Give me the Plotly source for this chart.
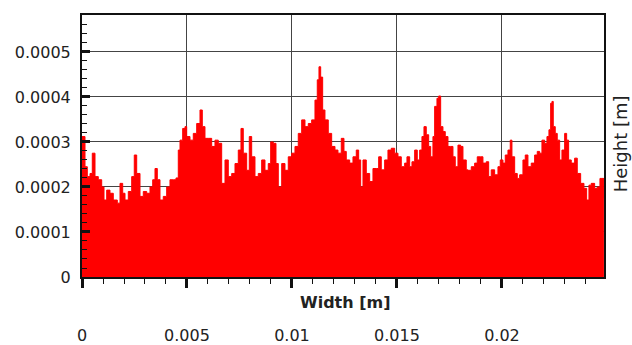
import plotly.graph_objects as go

# Surface profile (width in m, height in m)
width_m = [
    0.0, 0.000143, 0.000252, 0.000381, 0.000490, 0.000619, 0.000776, 0.000938, 0.001048, 0.001176,
    0.001333, 0.001490, 0.001681, 0.001810, 0.001938, 0.002048, 0.002205, 0.002367, 0.002490, 0.002605,
    0.002762, 0.002919, 0.003081, 0.003238, 0.003367, 0.003476, 0.003586, 0.003714, 0.003871, 0.004033,
    0.004190, 0.004348, 0.004476, 0.004586, 0.004667, 0.004795, 0.004905, 0.004986, 0.005143, 0.005300,
    0.005462, 0.005619, 0.005729, 0.005857, 0.006014, 0.006176, 0.006333, 0.006490, 0.006652, 0.006810,
    0.006967, 0.007129, 0.007286, 0.007443, 0.007571, 0.007681, 0.007843, 0.007967, 0.008081, 0.008238,
    0.008395, 0.008557, 0.008714, 0.008871, 0.008986, 0.009110, 0.009238, 0.009348, 0.009510, 0.009667,
    0.009824, 0.009986, 0.010143, 0.010300, 0.010462, 0.010619, 0.010776, 0.010938, 0.011095, 0.011205,
    0.011286, 0.011367, 0.011462, 0.011571, 0.011729, 0.011890, 0.012048, 0.012190, 0.012348, 0.012476,
    0.012586, 0.012748, 0.012905, 0.013062, 0.013176, 0.013271, 0.013381, 0.013538, 0.013700, 0.013857,
    0.014014, 0.014129, 0.014252, 0.014414, 0.014571, 0.014729, 0.014890, 0.015048, 0.015205, 0.015367,
    0.015476, 0.015605, 0.015714, 0.015843, 0.015967, 0.016081, 0.016190, 0.016286, 0.016395, 0.016510,
    0.016605, 0.016714, 0.016795, 0.016905, 0.016986, 0.017081, 0.017190, 0.017300, 0.017429, 0.017557,
    0.017667, 0.017776, 0.017905, 0.018033, 0.018143, 0.018300, 0.018381, 0.018538, 0.018700, 0.018824,
    0.018986, 0.019095, 0.019252, 0.019367, 0.019490, 0.019652, 0.019810, 0.019919, 0.020048, 0.020157,
    0.020286, 0.020395, 0.020476, 0.020605, 0.020729, 0.020843, 0.021000, 0.021110, 0.021238, 0.021395,
    0.021557, 0.021681, 0.021795, 0.021905, 0.022033, 0.022143, 0.022238, 0.022319, 0.022381, 0.022443,
    0.022538, 0.022633, 0.022748, 0.022857, 0.022986, 0.023081, 0.023176, 0.023300, 0.023462, 0.023586,
    0.023748, 0.023905, 0.024033, 0.024143, 0.024252, 0.024414, 0.024538, 0.024667, 0.024762, 0.024857,
]

height_e4 = [
    3.12, 2.45, 2.23, 2.30, 2.75, 2.23, 2.16, 2.00, 1.71, 1.93,
    1.86, 1.71, 1.64, 2.08, 1.86, 1.71, 1.90, 2.23, 2.71, 2.30,
    1.79, 1.90, 1.86, 2.00, 2.16, 2.41, 2.16, 1.71, 1.79, 2.00,
    2.16, 2.16, 2.20, 2.82, 3.04, 3.30, 3.34, 3.12, 3.04, 3.19,
    3.41, 3.71, 3.34, 3.08, 3.08, 2.90, 3.04, 2.97, 2.08, 2.60,
    2.23, 2.30, 2.52, 2.82, 3.30, 2.75, 2.37, 3.12, 2.67, 2.23,
    2.30, 2.60, 2.37, 2.52, 3.00, 2.97, 2.52, 2.00, 2.52, 2.37,
    2.67, 2.75, 2.90, 3.19, 3.49, 3.34, 3.41, 3.49, 3.93, 4.38,
    4.67, 4.44, 3.71, 3.49, 3.19, 2.90, 2.82, 2.75, 3.08, 2.79,
    2.60, 2.53, 2.67, 2.82, 2.60, 2.00, 2.60, 2.30, 2.12, 2.41,
    2.41, 2.67, 2.38, 2.60, 2.82, 2.86, 2.75, 2.67, 2.45, 2.53,
    2.67, 2.45, 2.56, 2.82, 2.60, 2.82, 3.12, 3.34, 3.16, 2.90,
    2.67, 3.12, 3.79, 3.97, 4.02, 3.34, 3.23, 3.12, 2.90, 2.90,
    2.67, 2.45, 2.93, 2.90, 2.60, 2.38, 2.37, 2.45, 2.53, 2.67,
    2.67, 2.53, 2.56, 2.23, 2.38, 2.27, 2.45, 2.60, 2.53, 2.71,
    2.82, 3.04, 2.67, 2.30, 2.19, 2.27, 2.60, 2.71, 2.45, 2.53,
    2.71, 2.79, 2.75, 3.04, 2.97, 3.12, 3.27, 3.86, 3.90, 3.34,
    3.19, 3.04, 2.60, 2.82, 3.19, 3.04, 2.60, 2.53, 2.64, 2.30,
    2.08, 1.97, 1.71, 2.04, 2.08, 1.97, 2.00, 2.19, 2.19, 1.75,
]
height_m = [h * 1e-4 for h in height_e4]

x_tick_vals = [0, 0.005, 0.01, 0.015, 0.02]
x_tick_text = ["0", "0.005", "0.01", "0.015", "0.02"]
y_tick_vals = [0, 0.0001, 0.0002, 0.0003, 0.0004, 0.0005]
y_tick_text = ["0", "0.0001", "0.0002", "0.0003", "0.0004", "0.0005"]

FONT = "DejaVu Sans"

fig = go.Figure()
fig.add_trace(go.Scatter(
    x=width_m, y=height_m, mode="lines",
    line=dict(color="#ff0000", width=1, shape="hv"),
    fill="tozeroy", fillcolor="#ff0000",
    hoverinfo="skip", showlegend=False,
))

fig.update_layout(
    width=632, height=345,
    margin=dict(l=82, r=28, t=15, b=68, autoexpand=False),
    paper_bgcolor="white", plot_bgcolor="white",
    font=dict(family=FONT, size=16, color="#222"),
    xaxis=dict(
        range=[0, 0.02486], tickvals=x_tick_vals, ticktext=x_tick_text,
        ticks="outside", ticklen=9, tickwidth=3, tickcolor="#111",
        minor=dict(dtick=0.001, ticks="outside", ticklen=5, tickwidth=1, tickcolor="#111", showgrid=False),
        showgrid=True, gridcolor="#444", gridwidth=1,
        showline=True, linecolor="#111", linewidth=2, mirror=True,
        ticklabelstandoff=34, zeroline=False, automargin=False,
        tickfont=dict(family=FONT, size=16, color="#222"),
    ),
    yaxis=dict(
        range=[0, 0.000582], tickvals=y_tick_vals, ticktext=y_tick_text,
        ticks="inside", ticklen=8, tickwidth=3, tickcolor="#111",
        minor=dict(dtick=0.00002, ticks="inside", ticklen=5, tickwidth=1, tickcolor="#111", showgrid=False),
        showgrid=True, gridcolor="#444", gridwidth=1,
        showline=True, linecolor="#111", linewidth=2, mirror=True,
        ticklabelstandoff=6, zeroline=False, automargin=False,
        tickfont=dict(family=FONT, size=16, color="#222"),
    ),
    annotations=[
        dict(text="<b>Width [m]</b>", xref="paper", yref="paper", x=0.504, y=-0.099,
             showarrow=False, font=dict(family=FONT, size=16, color="#222"),
             xanchor="center", yanchor="middle"),
        dict(text="Height [m]", xref="paper", yref="paper", x=1.0305, y=0.51,
             showarrow=False, textangle=-90, font=dict(family=FONT, size=18, color="#222"),
             xanchor="center", yanchor="middle"),
    ],
)

fig.write_html(
    "out.html",
    config={"displayModeBar": False},
    post_script="document.body.style.margin='0';document.body.style.overflow='hidden';",
)
